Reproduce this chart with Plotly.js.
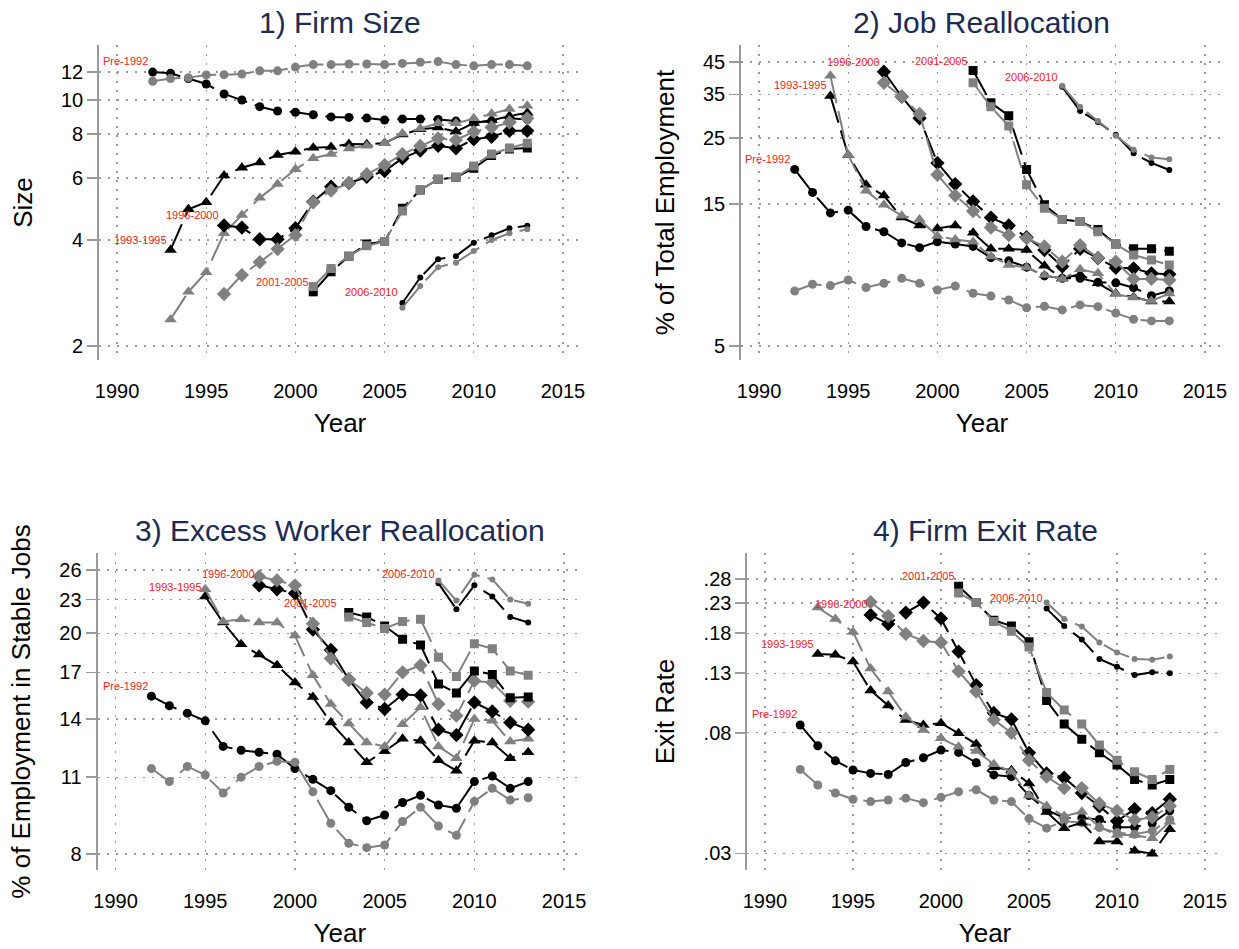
<!DOCTYPE html>
<html>
<head>
<meta charset="utf-8">
<script src="https://cdn.plot.ly/plotly-3.0.1.min.js"></script>
<style>
  html, body { margin: 0; padding: 0; background: #ffffff; }
  #chart { width: 1239px; height: 949px; }
</style>
</head>
<body>
<div id="chart"></div>
<script>
// ---------------- DATA ----------------
const years = [1992,1993,1994,1995,1996,1997,1998,1999,2000,2001,2002,2003,2004,2005,2006,2007,2008,2009,2010,2011,2012,2013];
const cohortLabels = ["Pre-1992","1993-1995","1996-2000","2001-2005","2006-2010"];
const xTickVals = [1990,1995,2000,2005,2010,2015];

// 1) Firm Size
const sizePreB  = [12.0,11.9,11.5,11.1,10.4,10.0,9.57,9.3,9.23,9.08,8.95,8.92,8.88,8.77,8.83,8.83,8.8,8.71,8.61,8.71,8.87,8.8];
const sizePreG  = [11.3,11.5,11.57,11.78,11.8,11.85,12.1,12.1,12.4,12.6,12.6,12.65,12.65,12.6,12.7,12.8,12.85,12.6,12.5,12.6,12.6,12.5];
const size9395B = [null,3.75,4.89,5.12,6.1,6.42,6.64,6.98,7.13,7.32,7.35,7.5,7.48,7.55,7.98,8.25,8.35,8.13,8.6,8.75,9.0,9.2];
const size9395G = [null,2.38,2.85,3.24,4.18,4.71,5.27,5.77,6.36,6.83,7.02,7.28,7.41,7.53,8.03,8.3,8.58,8.58,8.87,9.13,9.42,9.62];
const size9600B = [null,null,null,null,4.4,4.34,4.02,4.02,4.32,5.14,5.67,5.8,6.05,6.28,6.83,7.18,7.41,7.29,7.73,7.86,8.17,8.17];
const size9600G = [null,null,null,null,2.81,3.18,3.46,3.77,4.13,5.12,5.53,5.8,6.15,6.53,7.02,7.4,7.78,7.7,8.12,8.36,8.63,8.87];
const size0105B = [null,null,null,null,null,null,null,null,null,2.85,3.25,3.6,3.9,3.96,4.92,5.55,5.95,6.03,6.4,6.95,7.25,7.3];
const size0105G = [null,null,null,null,null,null,null,null,null,2.95,3.32,3.6,3.85,3.96,4.84,5.55,5.95,6.03,6.49,7.02,7.3,7.53];
const size0610B = [null,null,null,null,null,null,null,null,null,null,null,null,null,null,2.65,3.13,3.53,3.6,3.93,4.13,4.32,4.39];
const size0610G = [null,null,null,null,null,null,null,null,null,null,null,null,null,null,2.57,2.96,3.35,3.45,3.72,4.0,4.18,4.29];
const sizeTicks = [2,4,6,8,10,12];

// 2) Job Reallocation
const jrPreB  = [19.6,16.4,14.0,14.3,12.6,12.1,11.1,10.7,11.2,11.0,10.8,9.9,9.66,9.2,8.6,8.44,8.44,8.18,8.15,7.85,7.38,7.65];
const jrPreG  = [7.65,8.06,7.98,8.33,7.86,8.12,8.44,8.12,7.71,7.95,7.52,7.36,7.14,6.72,6.8,6.61,6.87,6.78,6.45,6.15,6.07,6.07];
const jr9395B = [null,null,34.6,21.9,17.4,16.0,13.5,12.7,12.4,12.7,12.0,10.6,10.6,10.5,9.3,8.44,8.7,8.12,7.5,7.3,7.05,7.05];
const jr9395G = [null,null,40.4,21.9,16.6,14.9,13.7,13.3,11.7,11.4,11.2,10.0,9.36,9.17,8.66,8.4,9.05,8.77,7.47,7.27,7.08,7.51];
const jr9600B = [null,null,null,null,null,41.7,34.4,29.1,20.6,17.5,15.3,13.5,12.7,11.6,10.5,9.24,10.6,9.86,9.16,9.12,8.77,8.71];
const jr9600G = [null,null,null,null,null,38.3,34.4,30.1,18.8,16.0,14.2,12.5,11.8,11.5,10.8,9.6,10.9,9.9,9.6,8.4,8.4,8.33];
const jr0105B = [null,null,null,null,null,null,null,null,null,null,42.1,32.8,29.7,19.6,14.9,13.3,13.1,12.3,11.0,10.6,10.6,10.4];
const jr0105G = [null,null,null,null,null,null,null,null,null,null,38.3,31.8,27.4,17.4,14.5,13.3,13.1,12.1,11.0,10.1,9.73,9.36];
const jr0610B = [null,null,null,null,null,null,null,null,null,null,null,null,null,null,null,37.1,30.8,28.3,25.6,22.2,20.6,19.5];
const jr0610G = [null,null,null,null,null,null,null,null,null,null,null,null,null,null,null,37.4,31.8,28.5,25.4,22.8,21.5,21.2];
const jrTicks = [5,15,25,35,45];

// 3) Excess Worker Reallocation
const ewPreB  = [15.4,14.8,14.35,13.9,12.5,12.3,12.2,12.1,11.4,10.9,10.4,9.71,9.18,9.4,9.9,10.2,9.8,9.67,10.8,11.05,10.5,10.8];
const ewPreG  = [11.4,10.8,11.5,11.1,10.3,11.0,11.5,11.75,11.7,10.35,9.08,8.36,8.21,8.3,9.15,9.71,8.98,8.64,9.95,10.5,10.0,10.1];
const ew9395B = [null,null,null,23.3,20.9,19.1,18.3,17.5,16.3,15.35,13.8,12.7,11.7,12.25,12.9,12.8,11.8,11.3,12.8,12.7,11.9,12.2];
const ew9395G = [null,null,null,24.0,21.0,21.2,20.9,20.9,19.8,16.8,14.9,13.75,12.7,12.5,13.7,14.7,12.5,11.9,14.0,13.9,12.75,12.9];
const ew9600B = [null,null,null,null,null,null,24.4,24.0,23.6,20.3,18.65,16.5,15.0,14.6,15.5,15.45,13.4,13.1,15.0,14.45,13.8,13.4];
const ew9600G = [null,null,null,null,null,null,25.3,24.9,24.4,20.8,18.0,16.5,15.6,15.5,17.0,17.5,14.9,14.2,16.4,16.3,15.1,15.05];
const ew0105B = [null,null,null,null,null,null,null,null,null,null,null,21.8,21.4,20.6,19.5,19.05,16.2,15.6,17.1,16.85,15.3,15.35];
const ew0105G = [null,null,null,null,null,null,null,null,null,null,null,21.4,20.9,20.4,21.0,21.2,18.1,16.7,19.15,18.75,17.1,16.8];
const ew0610B = [null,null,null,null,null,null,null,null,null,null,null,null,null,null,null,null,24.6,22.1,24.4,23.3,21.4,20.9];
const ew0610G = [null,null,null,null,null,null,null,null,null,null,null,null,null,null,null,null,24.9,22.9,25.5,25.0,23.0,22.6];
const ewTicks = [8,11,14,17,20,23,26];

// 4) Firm Exit Rate
const exPreB  = [0.0853,0.072,0.0637,0.0591,0.0575,0.057,0.0628,0.0653,0.0695,0.0682,0.0627,0.0568,0.056,0.048,0.0427,0.040,0.040,0.0395,0.0371,0.0371,0.0383,0.0424];
const exPreG  = [0.0594,0.0523,0.049,0.0466,0.0457,0.0463,0.047,0.0453,0.0473,0.0495,0.0503,0.0463,0.0457,0.0398,0.0368,0.039,0.0385,0.037,0.0355,0.035,0.036,0.0395];
const ex9395B = [null,0.152,0.151,0.143,0.113,0.100,0.0888,0.0853,0.0865,0.0797,0.073,0.0605,0.059,0.053,0.042,0.0368,0.0385,0.033,0.033,0.0306,0.0299,0.0365];
const ex9395G = [null,0.222,0.202,0.182,0.135,0.112,0.0912,0.0818,0.0765,0.0714,0.069,0.062,0.0583,0.048,0.0441,0.0406,0.0421,0.0372,0.0348,0.0348,0.0339,0.0388];
const ex9600B = [null,null,null,null,0.209,0.194,0.213,0.231,0.203,0.155,0.118,0.094,0.0893,0.068,0.0575,0.0555,0.049,0.044,0.039,0.043,0.0416,0.0466];
const ex9600G = [null,null,null,null,0.232,0.207,0.179,0.169,0.167,0.132,0.112,0.089,0.080,0.064,0.056,0.051,0.051,0.045,0.0424,0.0393,0.0402,0.0441];
const ex0105B = [null,null,null,null,null,null,null,null,null,0.264,0.231,0.200,0.191,0.168,0.104,0.086,0.0759,0.068,0.0616,0.0547,0.0523,0.0547];
const ex0105G = [null,null,null,null,null,null,null,null,null,0.250,0.231,0.198,0.183,0.161,0.111,0.0963,0.086,0.0724,0.064,0.0583,0.0547,0.0594];
const ex0610B = [null,null,null,null,null,null,null,null,null,null,null,null,null,null,0.220,0.191,0.171,0.146,0.137,0.128,0.131,0.130];
const ex0610G = [null,null,null,null,null,null,null,null,null,null,null,null,null,null,0.231,0.202,0.190,0.167,0.154,0.146,0.145,0.149];
const exTicks = [0.03,0.08,0.13,0.18,0.23,0.28];
const exTickText = [".03",".08",".13",".18",".23",".28"];

// Cohort label positions [year, value] per panel
const sizeLabelPos = [[1990.5,12.9],[1991.3,4.0],[1994.25,4.71],[1999.27,3.04],[2004.25,2.84]];
const jrLabelPos   = [[1990.5,21.2],[1992.3,37.7],[1995.27,45.0],[2000.25,45.3],[2005.3,40.1]];
const ewLabelPos   = [[1990.53,16.06],[1993.32,24.2],[1996.28,25.6],[2000.87,22.68],[2006.34,25.6]];
const exLabelPos   = [[1990.53,0.093],[1991.29,0.1644],[1994.32,0.2283],[1999.28,0.2868],[2004.3,0.2391]];

// ---------------- STYLE ----------------
const BLACK = "#000000", GRAY = "#808080";
const DASH = "28px,8px";
const FONT = "Liberation Sans, Arial, Helvetica, sans-serif";
const cohortMarkers = [
  {symbol: "circle", size: 9},
  {symbol: "triangle-up", size: 11},
  {symbol: "diamond", size: 11},
  {symbol: "square", size: 9},
  {symbol: "circle", size: 6}
];

const panels = [
  {xa: "x",  ya: "y",  series: [[sizePreB,sizePreG],[size9395B,size9395G],[size9600B,size9600G],[size0105B,size0105G],[size0610B,size0610G]], labels: sizeLabelPos},
  {xa: "x2", ya: "y2", series: [[jrPreB,jrPreG],[jr9395B,jr9395G],[jr9600B,jr9600G],[jr0105B,jr0105G],[jr0610B,jr0610G]], labels: jrLabelPos},
  {xa: "x3", ya: "y3", series: [[ewPreB,ewPreG],[ew9395B,ew9395G],[ew9600B,ew9600G],[ew0105B,ew0105G],[ew0610B,ew0610G]], labels: ewLabelPos},
  {xa: "x4", ya: "y4", series: [[exPreB,exPreG],[ex9395B,ex9395G],[ex9600B,ex9600G],[ex0105B,ex0105G],[ex0610B,ex0610G]], labels: exLabelPos}
];

const traces = [];
const annotations = [];
panels.forEach(function (p) {
  p.series.forEach(function (pair, ci) {
    [[pair[0], BLACK], [pair[1], GRAY]].forEach(function (sc) {
      traces.push({
        type: "scatter", mode: "lines+markers",
        x: years, y: sc[0], xaxis: p.xa, yaxis: p.ya,
        connectgaps: false, hoverinfo: "skip",
        line: {color: sc[1], width: 2, dash: DASH},
        marker: {symbol: cohortMarkers[ci].symbol, size: cohortMarkers[ci].size, color: sc[1], line: {width: 0}},
        showlegend: false
      });
    });
    annotations.push({
      xref: p.xa, yref: p.ya,
      x: p.labels[ci][0], y: Math.log10(p.labels[ci][1]),
      text: cohortLabels[ci], showarrow: false,
      font: {family: FONT, size: 11, color: "#ff1a1a"},
      xanchor: "center", yanchor: "middle"
    });
  });
});

// Panel titles
const W = 1239, H = 949;
const titleSpecs = [
  ["1) Firm Size", 340, 22],
  ["2) Job Reallocation", 982, 22],
  ["3) Excess Worker Reallocation", 340, 530],
  ["4) Firm Exit Rate", 985, 530]
];
titleSpecs.forEach(function (t) {
  annotations.push({
    xref: "paper", yref: "paper", x: t[1] / W, y: 1 - t[2] / H,
    text: t[0], showarrow: false, xanchor: "center", yanchor: "middle",
    font: {family: FONT, size: 30, color: "#1d2b53"}
  });
});

function xAxis(l, r, anchor) {
  return {
    domain: [l / W, r / W], range: [1989, 2016], anchor: anchor,
    tickmode: "array", tickvals: xTickVals,
    showgrid: true, gridcolor: "#9a9a9a", gridwidth: 1.3, griddash: "2px,7px",
    zeroline: false, showline: false,
    ticks: "outside", ticklen: 13, tickcolor: "rgba(0,0,0,0)",
    tickfont: {family: FONT, size: 20, color: "#000"},
    title: {text: "Year", font: {family: FONT, size: 26, color: "#000"}, standoff: 12},
    automargin: false, fixedrange: true
  };
}
function yAxis(top, bottom, range, tickvals, ticktext, title, anchor) {
  const ax = {
    domain: [1 - bottom / H, 1 - top / H], type: "log", range: range, anchor: anchor,
    tickmode: "array", tickvals: tickvals,
    showgrid: true, gridcolor: "#9a9a9a", gridwidth: 1.3, griddash: "2px,7px",
    zeroline: false, showline: true, linecolor: "#9a9a9a", linewidth: 2,
    ticks: "outside", ticklen: 10, tickwidth: 1.5, tickcolor: "#9a9a9a",
    tickfont: {family: FONT, size: 20, color: "#000"},
    title: {text: title, font: {family: FONT, size: 26, color: "#000"}, standoff: 21},
    automargin: false, fixedrange: true
  };
  if (ticktext) ax.ticktext = ticktext;
  return ax;
}

const layout = {
  width: W, height: H,
  margin: {l: 0, r: 0, t: 0, b: 0},
  paper_bgcolor: "#ffffff", plot_bgcolor: "#ffffff",
  font: {family: FONT, color: "#000"},
  showlegend: false,
  xaxis:  xAxis(99.2, 580.8, "y"),
  xaxis2: xAxis(741.2, 1222.8, "y2"),
  xaxis3: xAxis(97.6, 582, "y3"),
  xaxis4: xAxis(747.4, 1222.6, "y4"),
  yaxis:  yAxis(45, 360, [0.2612, 1.1561], sizeTicks, null, "Size", "x"),
  yaxis2: yAxis(45, 360, [0.652, 1.710], jrTicks, null, "% of Total Employment", "x2"),
  yaxis3: yAxis(553, 870, [0.874, 1.4456], ewTicks, null, "% of Employment in Stable Jobs", "x3"),
  yaxis4: yAxis(553, 870, [-1.582, -0.461], exTicks, exTickText, "Exit Rate", "x4"),
  annotations: annotations
};

Plotly.newPlot("chart", traces, layout, {staticPlot: true, displayModeBar: false});
</script>
</body>
</html>
